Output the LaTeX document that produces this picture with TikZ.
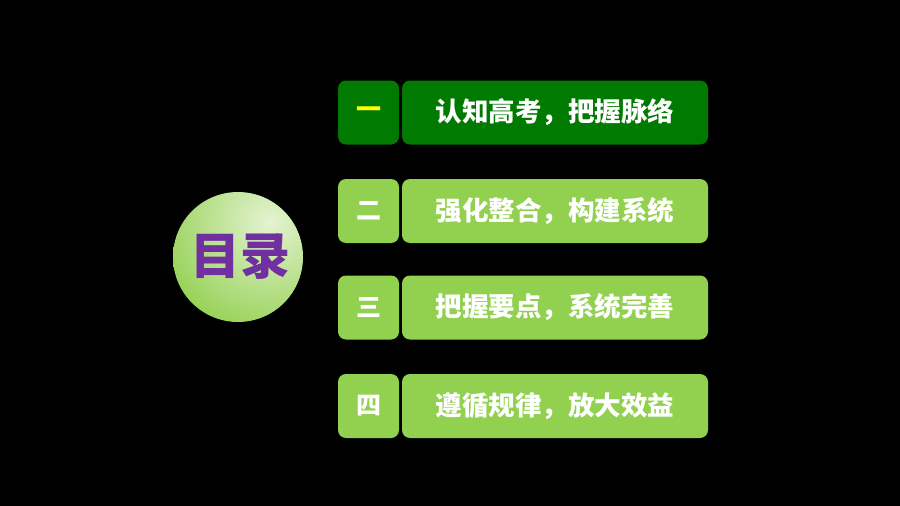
\documentclass[tikz,border=0pt]{standalone}
\usepackage{fontspec}
\newfontfamily\cjk{Noto Sans CJK SC}
\usetikzlibrary{positioning}
\definecolor{dkgreen}{RGB}{0,122,0}
\definecolor{ltgreen}{RGB}{146,208,80}
\definecolor{purp}{RGB}{112,48,160}
\definecolor{ylw}{RGB}{255,255,0}
\definecolor{pale}{RGB}{228,243,210}
\tikzset{
  numbox/.style={rounded corners=8pt, minimum width=61pt, minimum height=64pt, inner sep=0pt, font=\cjk\bfseries\fontsize{25}{25}\selectfont, text=white},
  titlebox/.style={rounded corners=8pt, minimum width=306pt, minimum height=64pt, inner sep=0pt, font=\cjk\bfseries\fontsize{26.5}{26.5}\selectfont, text=white},
}
\begin{document}
\begin{tikzpicture}[x=1pt,y=-1pt]
\fill[black] (0,0) rectangle (900,506);
\useasboundingbox (0,0) rectangle (900,506);
% circle
\begin{scope}
  \clip (238,257) circle (65);
  \shade[inner color=pale, outer color=ltgreen] (270,222) circle (120);
\end{scope}
\node[font=\cjk\bfseries\fontsize{50}{50}\selectfont, text=purp] (title) at (240,257) {目录};
% rows
\node[numbox, fill=dkgreen, text=ylw] (n1) at (368.5,112.5) {一};
\node[titlebox, fill=dkgreen] (t1) at (555,112.5) {认知高考，把握脉络};
\node[numbox, fill=ltgreen] (n2) at (368.5,211) {二};
\node[titlebox, fill=ltgreen] (t2) at (555,211) {强化整合，构建系统};
\node[numbox, fill=ltgreen] (n3) at (368.5,307.5) {三};
\node[titlebox, fill=ltgreen] (t3) at (555,307.5) {把握要点，系统完善};
\node[numbox, fill=ltgreen] (n4) at (368.5,406) {四};
\node[titlebox, fill=ltgreen] (t4) at (555,406) {遵循规律，放大效益};
\end{tikzpicture}
\end{document}
